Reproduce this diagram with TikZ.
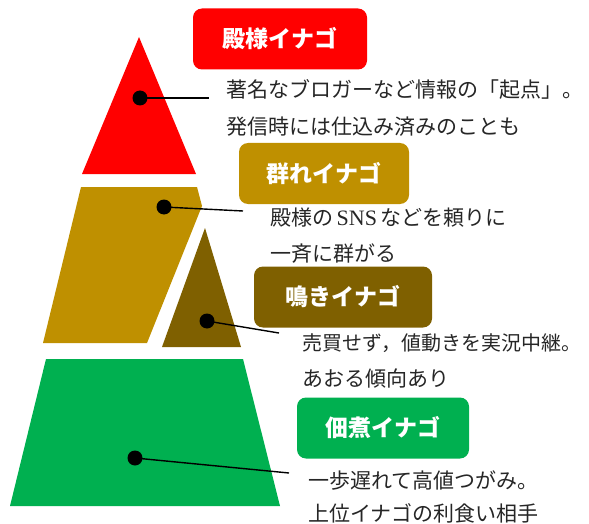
\documentclass[tikz,border=0pt]{standalone}
\usepackage{fontspec}
\setmainfont{Liberation Serif}
\newfontfamily\cjk{Noto Sans CJK JP}
\definecolor{cRed}{HTML}{FF0000}
\definecolor{cGold}{HTML}{BF9000}
\definecolor{cBrown}{HTML}{7F6000}
\definecolor{cGreen}{HTML}{00B050}
\definecolor{cText}{HTML}{262626}
\tikzset{
  titlebox/.style={rounded corners=9pt, minimum width=#1, minimum height=61pt, inner sep=0pt,
    text=white},
  titlefont/.style={font={\cjk\bfseries\fontsize{23}{23}\selectfont}},
  bodytext/.style={anchor=base west, inner sep=0pt, text=cText,
    font={\cjk\fontsize{21}{24}\selectfont}},
  dotnode/.style={circle, fill=black, inner sep=0pt, minimum size=15pt},
  leader/.style={line width=1.4pt, black}
}
\begin{document}
\begin{tikzpicture}[x=1pt,y=-1pt]
\useasboundingbox (0,0) rectangle (589,524);
% pyramid pieces
\fill[cRed] (139,37) -- (196,174) -- (82,174) -- cycle;
\fill[cGold] (81,187) -- (197,187) -- (202,206) -- (147,343) -- (43,343) -- cycle;
\fill[cBrown] (205,228) -- (241,347) -- (162,347) -- cycle;
\fill[cGreen] (46,359) -- (243,359) -- (280,506) -- (10,506) -- cycle;
% title boxes
\node[titlebox=174pt, titlefont, fill=cRed] (b1) at (280,39) {殿様イナゴ};
\node[titlebox=170pt, titlefont, fill=cGold] (b2) at (324,173.5) {群れイナゴ};
\node[titlebox=178pt, titlefont, fill=cBrown] (b3) at (343,297) {鳴きイナゴ};
\node[titlebox=172pt, titlefont, fill=cGreen] (b4) at (383,428) {佃煮イナゴ};
% body texts
\node[bodytext] (t1a) at (226,98) {著名なブロガーなど情報の「起点」。};
\node[bodytext] (t1b) at (226,135) {発信時には仕込み済みのことも};
\node[bodytext] (t2a) at (270,225) {殿様の\,{\rmfamily\fontsize{22}{24}\selectfont SNS}\,などを頼りに};
\node[bodytext] (t2b) at (270,261) {一斉に群がる};
\node[bodytext, font={\cjk\fontsize{20}{24}\selectfont}] (t3a) at (302,350) {売買せず，値動きを実況中継。};
\node[bodytext] (t3b) at (302,386) {あおる傾向あり};
\node[bodytext] (t4a) at (308,488) {一歩遅れて高値つがみ。};
\node[bodytext] (t4b) at (308,521) {上位イナゴの利食い相手};
% dots and leaders
\node[dotnode] (d1) at (140,98) {};
\node[dotnode] (d2) at (164,207) {};
\node[dotnode] (d3) at (207,321) {};
\node[dotnode] (d4) at (135,458) {};
\coordinate (e1) at (209,98);
\coordinate (e2) at (243,211);
\coordinate (e3) at (279,333);
\coordinate (e4) at (289,473);
\draw[leader] (d1.center) -- (e1);
\draw[leader] (d2.center) -- (e2);
\draw[leader] (d3.center) -- (e3);
\draw[leader] (d4.center) -- (e4);
\end{tikzpicture}
\end{document}
